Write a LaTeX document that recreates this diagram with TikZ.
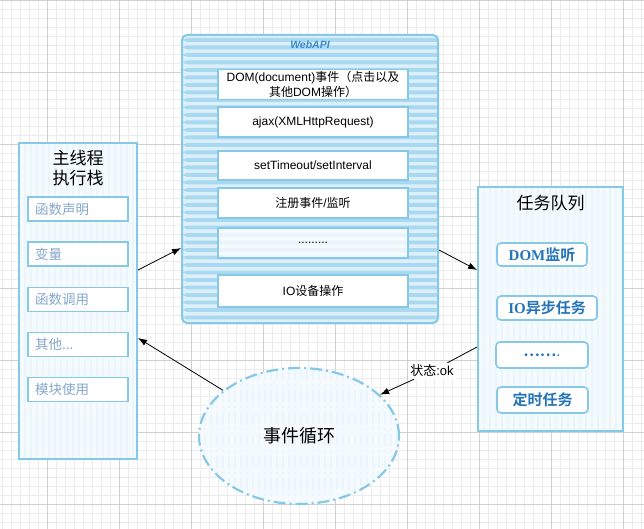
\documentclass[tikz,border=0pt]{standalone}
\usepackage{fontspec}
\setmainfont{Liberation Sans}
\newfontfamily\cjk{Noto Sans CJK SC}
\newfontfamily\cjkb{Noto Sans CJK SC Bold}
\newfontfamily\serifr{Liberation Serif}
\usetikzlibrary{arrows.meta,shapes.geometric,calc}
\definecolor{gridminor}{HTML}{ECECEC}
\definecolor{gridmajor}{HTML}{D0D0D0}
\definecolor{skyb}{HTML}{86C8E8}
\definecolor{palefill}{HTML}{F4FAFE}
\definecolor{palestripe}{HTML}{EAF5FC}
\definecolor{webfill}{HTML}{DDF0FA}
\definecolor{webstripe}{HTML}{A9D8F1}
\definecolor{greytext}{HTML}{87A7CC}
\definecolor{bluetext}{HTML}{2374BA}
\definecolor{webtitle}{HTML}{3C8ACB}
\begin{document}
\begin{tikzpicture}[x=1pt,y=-1pt,
  gridmin/.style={draw=gridminor,line width=0.8pt},
  gridmaj/.style={draw=gridmajor,line width=1pt},
  vstripes/.style={path picture={\foreach \k in {0,...,50}{\draw[palestripe,line width=2.5pt] ($(path picture bounding box.north west)+(\k*6,0)$) -- ($(path picture bounding box.south west)+(\k*6,0)$);}}},
  hstripes/.style={path picture={\foreach \k in {0,...,40}{\fill[webstripe] ($(path picture bounding box.north west)+(0,3+\k*7.5)$) rectangle ++(270,3.8);}}},
  container/.style={draw=skyb,line width=2pt,fill=palefill,vstripes,inner sep=0pt},
  titletext/.style={font=\cjk\fontsize{17}{19.5}\selectfont,align=center,text=black},
  leftitem/.style={draw=skyb,line width=1.5pt,fill=white,minimum width=100pt,minimum height=24pt,text width=86pt,inner xsep=7pt,align=left,font=\cjk\fontsize{13.5}{16}\selectfont,text=greytext},
  webitem/.style={draw=skyb,line width=1.6pt,fill=white,minimum width=190pt,inner sep=2pt,align=center,font=\fontsize{12}{14.5}\selectfont,text=black},
  qitem/.style={draw=skyb,line width=1.6pt,fill=white,rounded corners=4pt,inner sep=2pt,align=center,font=\fontsize{15}{17}\selectfont,text=bluetext},
  arr/.style={draw=black,line width=0.8pt,-{Latex[length=9pt,width=6.5pt]}}]
\useasboundingbox (0,0) rectangle (644,529);
\fill[white] (0,0) rectangle (644,529);
% grid
\foreach \i in {0,...,71}{\draw[gridmin] ({2.5+9*\i},0) -- ({2.5+9*\i},529);}
\foreach \i in {0,...,58}{\draw[gridmin] (0,{0.5+9*\i}) -- (644,{0.5+9*\i});}
\foreach \i in {1,...,9}{\draw[gridmaj] ({-24.5+72*\i},0) -- ({-24.5+72*\i},529);}
\foreach \i in {0,...,7}{\draw[gridmaj] (0,{0.5+72*\i}) -- (644,{0.5+72*\i});}

% main thread stack
\node[container,minimum width=118pt,minimum height=316pt] (main) at (78,301) {};
\node[titletext] (maintitle) at (78,168) {主线程\\执行栈};
\node[leftitem] (l1) at (78,209) {函数声明};
\node[leftitem] (l2) at (78,254) {变量};
\node[leftitem] (l3) at (78,299.5) {函数调用};
\node[leftitem] (l4) at (78,344.5) {其他...};
\node[leftitem] (l5) at (78,389.5) {模块使用};

% WebAPI
\node[draw=skyb,line width=2pt,fill=webfill,hstripes,rounded corners=5pt,minimum width=256pt,minimum height=288pt,inner sep=0pt] (web) at (310,179) {};
\node[font=\bfseries\itshape\fontsize{10.5}{12}\selectfont,text=webtitle] (webt) at (310,45) {WebAPI};
\node[webitem,minimum height=29pt] (w1) at (313,84.5) {DOM(document){\cjk 事件（点击以及}\\{\cjk 其他}DOM{\cjk 操作）}};
\node[webitem,minimum height=30pt] (w2) at (313,122) {ajax(XMLHttpRequest)};
\node[webitem,minimum height=29pt] (w3) at (313,165.5) {setTimeout/setInterval};
\node[webitem,minimum height=30pt] (w4) at (313,203) {{\cjk 注册事件}/{\cjk 监听}};
\node[webitem,minimum height=30pt,fill opacity=0.75,text opacity=1] (w5) at (313,243) {.........};
\node[webitem,minimum height=32pt] (w6) at (313,291) {IO{\cjk 设备操作}};

% task queue
\node[container,minimum width=145pt,minimum height=244pt] (queue) at (550.5,309) {};
\node[titletext] (queuet) at (550.5,203) {任务队列};
\node[qitem,minimum width=90pt,minimum height=23pt] (q1) at (542,254.5) {{\serifr\bfseries DOM}{\cjkb 监听}};
\node[qitem,minimum width=100pt,minimum height=24pt] (q2) at (547,308) {{\serifr\bfseries IO}{\cjkb 异步任务}};
\node[qitem,minimum width=92pt,minimum height=26pt] (q3) at (542,355) {{\cjkb ……}.};
\node[qitem,minimum width=91pt,minimum height=26pt] (q4) at (542.5,400) {{\cjkb 定时任务}};

% event loop
\node[ellipse,draw=skyb,line width=2.2pt,dash pattern=on 12pt off 4pt on 2pt off 4pt,fill=palefill,vstripes,minimum width=200pt,minimum height=136pt,inner sep=0pt,font=\cjk\fontsize{18}{20}\selectfont] (loop) at (299,436) {事件循环};

% status label
\node[fill=white,inner sep=2pt,font=\fontsize{13}{15}\selectfont] (status) at (432,371) {{\cjk 状态}:ok};

% connectors
\draw[arr] ([yshift=31pt]main.east) -- ([yshift=-69pt]web.west);
\draw[arr] ([yshift=-71pt]web.east) -- ([yshift=39pt]queue.west);
\draw[arr] ([yshift=-38pt]queue.west) -- (status) -- (loop.27);
\draw[arr] (loop.149) -- ([yshift=-37pt]main.east);
\end{tikzpicture}
\end{document}
